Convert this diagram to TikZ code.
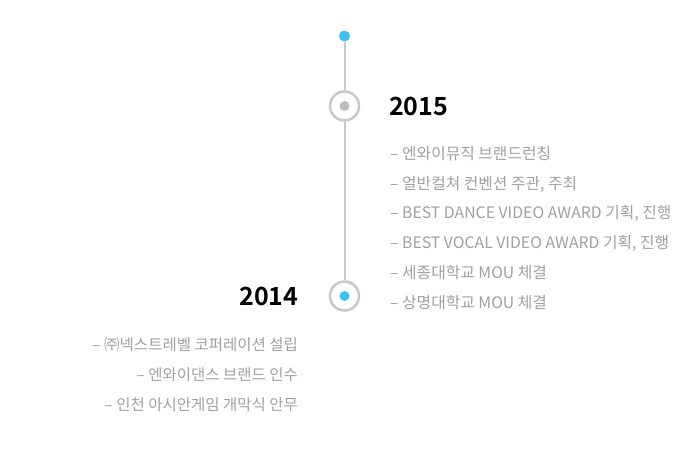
\documentclass[tikz,border=0pt]{standalone}
\usepackage{fontspec}
\newfontfamily\kr{Noto Sans CJK KR}
\newfontfamily\krb{Noto Sans CJK KR Bold}
\definecolor{dotblue}{HTML}{3FBFF5}
\definecolor{linegray}{HTML}{C8C8C8}
\definecolor{innergray}{HTML}{BDBDBD}
\definecolor{itemgray}{HTML}{A0A0A0}
\begin{document}
\begin{tikzpicture}[x=1pt,y=-1pt,
  yearlabel/.style={font=\krb\fontsize{25}{25}\selectfont, text=black, inner sep=0pt},
  itemR/.style={font=\kr\fontsize{15.8}{15.8}\selectfont, text=itemgray, inner sep=0pt, anchor=base west},
  itemL/.style={font=\kr\fontsize{15.5}{15.5}\selectfont, text=itemgray, inner sep=0pt, anchor=base east},
  ring/.style={circle, draw=linegray, line width=2.5pt, minimum size=29pt, inner sep=0pt, fill=white},
  tline/.style={draw=linegray, line width=2pt}]
\useasboundingbox (0,0) rectangle (685,475);
\node[circle, fill=dotblue, minimum size=11pt, inner sep=0pt] (top) at (344.5,36) {};
\node[ring] (r15) at (344.5,106) {};
\node[circle, fill=innergray, minimum size=10pt, inner sep=0pt] (d15) at (344.5,106) {};
\node[ring] (r14) at (344.5,296) {};
\node[circle, fill=dotblue, minimum size=10pt, inner sep=0pt] (d14) at (344.5,296) {};
\draw[tline] (top) -- (r15);
\draw[tline] (r15) -- (r14);
\node[yearlabel, anchor=base west] (y15) at (389,115) {2015};
\node[yearlabel, anchor=base east] (y14) at (298.5,305) {2014};
\node[itemR] (a1) at (390,159) {– 엔와이뮤직 브랜드런칭};
\node[itemR] (a2) at (390,189) {– 얼반컬쳐 컨벤션 주관, 주최};
\node[itemR] (a3) at (390,218) {– BEST DANCE VIDEO AWARD 기획, 진행};
\node[itemR] (a4) at (390,248) {– BEST VOCAL VIDEO AWARD 기획, 진행};
\node[itemR] (a5) at (390,278) {– 세종대학교 MOU 체결};
\node[itemR] (a6) at (390,308) {– 상명대학교 MOU 체결};
\node[itemL] (b1) at (298,350) {– ㈜넥스트레벨 코퍼레이션 설립};
\node[itemL] (b2) at (298,380) {– 엔와이댄스 브랜드 인수};
\node[itemL] (b3) at (298,410) {– 인천 아시안게임 개막식 안무};
\end{tikzpicture}
\end{document}
